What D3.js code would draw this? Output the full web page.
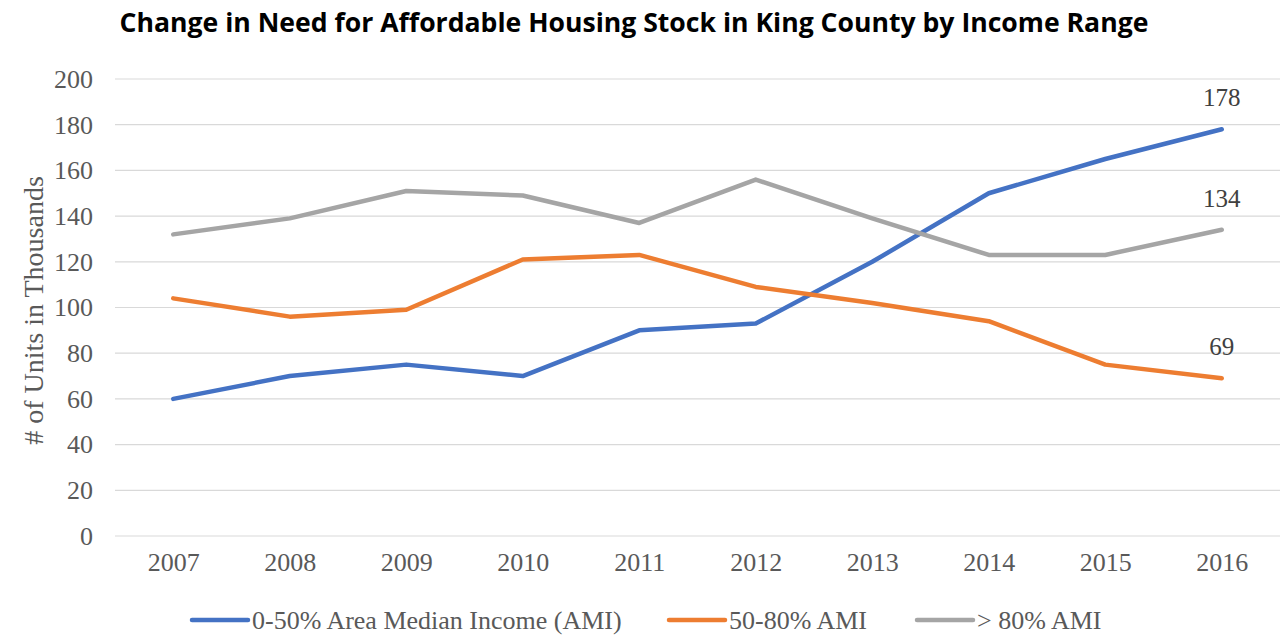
<!DOCTYPE html>
<html>
<head>
<meta charset="utf-8">
<script src="https://cdn.jsdelivr.net/npm/d3@7"></script>
<style>
  body { margin: 0; background: #fff; }
  .tick text { font-family: "Liberation Serif", serif; fill: #595959; }
</style>
</head>
<body>
<svg id="chart" width="1280" height="636"></svg>
<script>
var years = ["2007","2008","2009","2010","2011","2012","2013","2014","2015","2016"];
var low = [60, 70, 75, 70, 90, 93, 120, 150, 165, 178];
var mid = [104, 96, 99, 121, 123, 109, 102, 94, 75, 69];
var high = [132, 139, 151, 149, 137, 156, 139, 123, 123, 134];
var seriesNames = ["0-50% Area Median Income (AMI)", "50-80% AMI", "> 80% AMI"];
var yTicks = [0, 20, 40, 60, 80, 100, 120, 140, 160, 180, 200];

var colors = ["#4472C4", "#ED7D31", "#A5A5A5"];
var series = [low, mid, high];

var margin = {top: 79, right: 0, bottom: 100, left: 115},
    width = 1280 - margin.left - margin.right,
    height = 636 - margin.top - margin.bottom;

var svg = d3.select("#chart");

// title
svg.append("text")
  .attr("x", 634).attr("y", 32)
  .attr("text-anchor", "middle")
  .style("font-family", "'Open Sans', sans-serif")
  .style("font-weight", "bold")
  .style("font-size", "26.6px")
  .text("Change in Need for Affordable Housing Stock in King County by Income Range");

var g = svg.append("g").attr("transform", "translate(" + margin.left + "," + margin.top + ")");

var x = d3.scalePoint().domain(years).range([0, width]).padding(0.5);
var y = d3.scaleLinear().domain([0, 200]).range([height, 0]);

// gridlines
g.append("g").selectAll("line").data(yTicks).enter().append("line")
  .attr("x1", 0).attr("x2", width)
  .attr("y1", function(d){ return y(d); })
  .attr("y2", function(d){ return y(d); })
  .attr("stroke", "#d9d9d9").attr("stroke-width", 1.2);

// y axis
var yAxis = g.append("g")
  .call(d3.axisLeft(y).tickValues(yTicks).tickSize(0).tickPadding(22));
yAxis.select(".domain").remove();
yAxis.selectAll("text").style("font-size", "26px");

// x axis
var xAxis = g.append("g")
  .attr("transform", "translate(0," + height + ")")
  .call(d3.axisBottom(x).tickSize(0).tickPadding(17));
xAxis.select(".domain").remove();
xAxis.selectAll("text").style("font-size", "26px");

// y axis title
svg.append("text")
  .attr("transform", "translate(43," + (margin.top + height / 2 + 3) + ") rotate(-90)")
  .attr("text-anchor", "middle")
  .style("font-family", "'Liberation Serif', serif")
  .style("font-size", "28px")
  .style("fill", "#595959")
  .text("# of Units in Thousands");

// lines
var line = d3.line()
  .x(function(d, i){ return x(years[i]); })
  .y(function(d){ return y(d); });

series.forEach(function(s, k){
  g.append("path")
    .datum(s)
    .attr("fill", "none")
    .attr("stroke", colors[k])
    .attr("stroke-width", 4.5)
    .attr("stroke-linejoin", "round")
    .attr("stroke-linecap", "round")
    .attr("d", line);

  // end label
  var last = s[s.length - 1];
  g.append("text")
    .attr("x", x(years[years.length - 1]))
    .attr("y", y(last) - 23)
    .attr("text-anchor", "middle")
    .style("font-family", "'Liberation Serif', serif")
    .style("font-size", "25px")
    .style("fill", "#404040")
    .text(last);
});

// legend
var legendX = [192, 669, 917];
var legend = svg.append("g").attr("transform", "translate(0,620)");
seriesNames.forEach(function(name, k){
  legend.append("line")
    .attr("x1", legendX[k]).attr("x2", legendX[k] + 56)
    .attr("y1", 0).attr("y2", 0)
    .attr("stroke", colors[k]).attr("stroke-width", 4.5)
    .attr("stroke-linecap", "round");
  legend.append("text")
    .attr("x", legendX[k] + 60).attr("y", 9)
    .style("font-family", "'Liberation Serif', serif")
    .style("font-size", "26px")
    .style("fill", "#595959")
    .text(name);
});
</script>
</body>
</html>
